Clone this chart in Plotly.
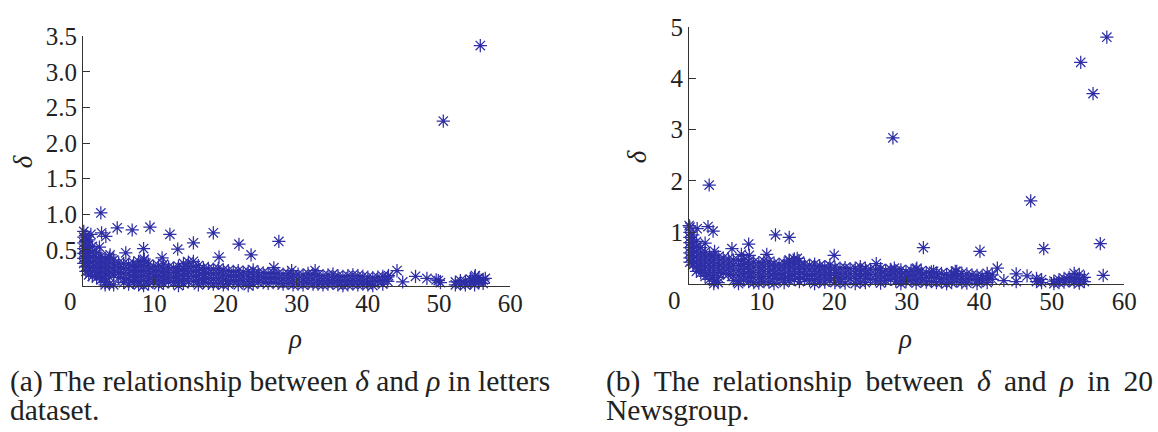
import plotly.graph_objects as go

# ---------------- data: panel (a) letters dataset ----------------
band_a_rho = [0.1, 0.4, 0.8, 1.3, 1.9, 2.5, 3.1, 3.7, 4.3, 5.0, 5.7, 6.4, 7.1, 7.8, 8.5, 9.2, 9.9,
              10.6, 11.3, 12.0, 12.7, 13.4, 14.1, 14.8, 15.5, 16.2, 16.9, 17.6, 18.3, 19.0, 19.7,
              20.4, 21.1, 21.8, 22.5, 23.2, 23.9, 24.6, 25.3, 26.0, 26.7, 27.4, 28.1, 28.8, 29.5,
              30.2, 30.9, 31.6, 32.3, 33.0, 33.7, 34.4, 35.1, 35.8, 36.5, 37.2, 37.9, 38.6, 39.3,
              40.0, 40.7, 41.4, 42.1, 42.8,
              49.6, 50.2, 52.3, 53.0, 53.7, 54.4, 55.0, 55.6, 56.2]
band_a_delta = [
    [0.76, 0.68, 0.60, 0.52, 0.45, 0.38, 0.31],
    [0.70, 0.62, 0.55, 0.48, 0.41, 0.34, 0.27, 0.20],
    [0.64, 0.56, 0.49, 0.42, 0.35, 0.28, 0.21, 0.15],
    [0.55, 0.47, 0.40, 0.33, 0.26, 0.20, 0.13],
    [0.46, 0.39, 0.32, 0.25, 0.18, 0.11],
    [0.41, 0.34, 0.27, 0.20, 0.14, 0.08],
    [0.38, 0.31, 0.24, 0.17, 0.10, 0.04, 0.01],
    [0.40, 0.33, 0.26, 0.19, 0.12, 0.02],
    [0.36, 0.29, 0.22, 0.15, 0.01],
    [0.32, 0.25, 0.18, 0.11],
    [0.31, 0.24, 0.17, 0.10, 0.04],
    [0.30, 0.23, 0.16, 0.09, 0.02],
    [0.32, 0.25, 0.18, 0.11, 0.04],
    [0.34, 0.27, 0.20, 0.13, 0.06, 0.01],
    [0.35, 0.28, 0.21, 0.14, 0.07, 0.00],
    [0.30, 0.23, 0.16, 0.09, 0.02],
    [0.27, 0.20, 0.13, 0.06],
    [0.28, 0.21, 0.14, 0.07, 0.01],
    [0.30, 0.23, 0.16, 0.09, 0.03],
    [0.26, 0.19, 0.12, 0.05],
    [0.25, 0.18, 0.11, 0.04],
    [0.27, 0.20, 0.13, 0.06, 0.00],
    [0.31, 0.24, 0.17, 0.10, 0.03],
    [0.33, 0.26, 0.19, 0.12, 0.05],
    [0.34, 0.27, 0.20, 0.13, 0.06],
    [0.28, 0.21, 0.14, 0.07, 0.01],
    [0.25, 0.18, 0.11, 0.04],
    [0.24, 0.17, 0.10, 0.03],
    [0.23, 0.16, 0.09, 0.02],
    [0.24, 0.17, 0.10, 0.03],
    [0.22, 0.15, 0.08, 0.01],
    [0.21, 0.14, 0.07, 0.02],
    [0.20, 0.13, 0.06],
    [0.21, 0.14, 0.07, 0.01],
    [0.19, 0.12, 0.05],
    [0.20, 0.13, 0.06, 0.00],
    [0.22, 0.15, 0.08, 0.02],
    [0.19, 0.12, 0.05],
    [0.18, 0.11, 0.04],
    [0.17, 0.10, 0.03],
    [0.18, 0.11, 0.04],
    [0.17, 0.10, 0.03],
    [0.16, 0.09, 0.02],
    [0.17, 0.10, 0.03],
    [0.15, 0.08, 0.01],
    [0.16, 0.09, 0.02],
    [0.15, 0.08, 0.01],
    [0.17, 0.10, 0.03],
    [0.16, 0.09, 0.02],
    [0.15, 0.08, 0.02],
    [0.14, 0.07, 0.01],
    [0.15, 0.08, 0.02],
    [0.16, 0.09, 0.03],
    [0.14, 0.07, 0.01],
    [0.13, 0.06, 0.00],
    [0.14, 0.07, 0.01],
    [0.15, 0.08, 0.02],
    [0.14, 0.07, 0.01],
    [0.13, 0.06, 0.02],
    [0.12, 0.05, 0.01],
    [0.11, 0.05, 0.00],
    [0.12, 0.06],
    [0.13, 0.07, 0.02],
    [0.12, 0.06],
    [0.08],
    [0.04],
    [0.05, 0.01],
    [0.07, 0.02],
    [0.06, 0.01],
    [0.09, 0.04],
    [0.12, 0.06, 0.01],
    [0.11, 0.05],
    [0.08, 0.03],
]
out_a_rho = [55.8, 50.6, 2.5, 4.8, 6.9, 9.4, 12.2, 18.3, 15.5, 13.3, 21.9, 27.5, 19.1, 23.6,
             26.8, 8.5, 2.3, 2.6, 3.2, 1.1, 6.0, 11.1, 8.6, 3.8, 29.3, 32.6, 44.1, 42.9, 44.9,
             46.7, 48.3, 49.9, 55.1, 56.5]
out_a_delta = [3.37, 2.31, 1.02, 0.81, 0.78, 0.82, 0.72, 0.74, 0.60, 0.51, 0.58, 0.62, 0.40, 0.43,
               0.25, 0.52, 0.54, 0.74, 0.69, 0.72, 0.46, 0.39, 0.37, 0.43, 0.21, 0.21, 0.21, 0.14, 0.05,
               0.13, 0.10, 0.07, 0.14, 0.10]

# ---------------- data: panel (b) 20 Newsgroup ----------------
band_b_rho = [0.1, 0.5, 1.0, 1.6, 2.2, 2.8, 3.4, 4.0, 4.7, 5.4, 6.1, 6.8, 7.5, 8.2, 8.9, 9.6,
              10.3, 11.0, 11.7, 12.4, 13.1, 13.8, 14.5, 15.2, 15.9, 16.6, 17.3, 18.0, 18.7, 19.4,
              20.1, 20.8, 21.5, 22.2, 22.9, 23.6, 24.3, 25.0, 25.7, 26.4, 27.1, 27.8, 28.5, 29.2,
              29.9, 30.6, 31.3, 32.0, 32.7, 33.4, 34.1, 34.8, 35.5, 36.2, 36.9, 37.6, 38.3, 39.0,
              39.7, 40.4, 41.1, 41.8,
              47.9, 48.6, 50.3, 51.0, 51.7, 52.4, 53.1, 53.8, 54.5]
band_b_delta = [
    [1.10, 1.00, 0.90, 0.80, 0.70, 0.60, 0.50, 0.42],
    [0.95, 0.85, 0.75, 0.65, 0.55, 0.45, 0.36],
    [0.82, 0.72, 0.62, 0.52, 0.42, 0.32, 0.24],
    [0.70, 0.60, 0.50, 0.40, 0.30, 0.21],
    [0.62, 0.52, 0.42, 0.32, 0.22, 0.14],
    [0.56, 0.46, 0.36, 0.26, 0.16, 0.08],
    [0.55, 0.45, 0.35, 0.25, 0.15, 0.05, 0.00],
    [0.52, 0.42, 0.32, 0.22, 0.12, 0.02],
    [0.50, 0.40, 0.30, 0.20],
    [0.48, 0.38, 0.28, 0.18],
    [0.46, 0.36, 0.26, 0.16, 0.06],
    [0.45, 0.35, 0.25, 0.15, 0.05, 0.00],
    [0.47, 0.37, 0.27, 0.17, 0.07],
    [0.44, 0.34, 0.24, 0.14, 0.04],
    [0.42, 0.32, 0.22, 0.12, 0.02],
    [0.41, 0.31, 0.21, 0.11, 0.01],
    [0.44, 0.34, 0.24, 0.14, 0.04],
    [0.43, 0.33, 0.23, 0.13, 0.03],
    [0.40, 0.30, 0.20, 0.10, 0.00],
    [0.38, 0.28, 0.18, 0.08],
    [0.40, 0.30, 0.20, 0.10, 0.02],
    [0.46, 0.36, 0.26, 0.16, 0.06],
    [0.48, 0.38, 0.28, 0.18, 0.08],
    [0.44, 0.34, 0.24, 0.14, 0.04],
    [0.38, 0.28, 0.18, 0.08],
    [0.36, 0.26, 0.16, 0.06],
    [0.38, 0.28, 0.18, 0.08, 0.00],
    [0.35, 0.25, 0.15, 0.05],
    [0.33, 0.23, 0.13, 0.03],
    [0.36, 0.26, 0.16, 0.06],
    [0.32, 0.22, 0.12, 0.02],
    [0.30, 0.20, 0.10, 0.03],
    [0.31, 0.21, 0.11, 0.01],
    [0.29, 0.19, 0.09],
    [0.30, 0.20, 0.10, 0.00],
    [0.33, 0.23, 0.13, 0.03],
    [0.30, 0.20, 0.10, 0.02],
    [0.28, 0.18, 0.08],
    [0.27, 0.17, 0.07],
    [0.29, 0.19, 0.09, 0.01],
    [0.26, 0.16, 0.06],
    [0.28, 0.18, 0.08],
    [0.25, 0.15, 0.05],
    [0.27, 0.17, 0.07, 0.00],
    [0.24, 0.14, 0.04],
    [0.26, 0.16, 0.06],
    [0.28, 0.18, 0.08, 0.01],
    [0.25, 0.15, 0.05],
    [0.22, 0.12, 0.03],
    [0.23, 0.13, 0.04],
    [0.21, 0.11, 0.02],
    [0.20, 0.10, 0.03],
    [0.18, 0.09, 0.00],
    [0.21, 0.11, 0.02],
    [0.24, 0.14, 0.05],
    [0.20, 0.10, 0.02],
    [0.19, 0.09, 0.01],
    [0.17, 0.08],
    [0.16, 0.07, 0.00],
    [0.15, 0.06],
    [0.20, 0.10, 0.02],
    [0.17, 0.08],
    [0.10, 0.04],
    [0.08, 0.02],
    [0.05, 0.00],
    [0.08, 0.02],
    [0.10, 0.03],
    [0.12, 0.05],
    [0.20, 0.10, 0.03],
    [0.18, 0.08, 0.01],
    [0.12, 0.04],
]
out_b_rho = [57.6, 54.0, 55.7, 28.1, 2.76, 47.1, 56.7, 48.9, 40.1, 32.3, 20.0, 11.9, 13.8, 57.1,
             42.5, 45.1, 46.6, 43.4, 45.1, 25.8, 28.3, 31.4, 33.7, 36.7, 8.2, 8.3, 5.9, 2.2, 2.6,
             3.3, 1.1, 0.0, 10.7, 3.5, 7.2, 14.9, 13.8]
out_b_delta = [4.80, 4.31, 3.70, 2.84, 1.92, 1.61, 0.78, 0.68, 0.63, 0.70, 0.55, 0.95, 0.90, 0.16,
               0.30, 0.19, 0.15, 0.06, 0.04, 0.39, 0.30, 0.30, 0.24, 0.24, 0.77, 0.55, 0.68, 0.79, 1.11,
               1.02, 1.07, 1.13, 0.57, 0.63, 0.57, 0.49, 0.44]

ticks_a = [0.5, 1.0, 1.5, 2.0, 2.5, 3.0, 3.5]
ticks_a_text = ["0.5", "1.0", "1.5", "2.0", "2.5", "3.0", "3.5"]
ticks_b = [1, 2, 3, 4, 5]
ticks_x = [10, 20, 30, 40, 50, 60]

GAP = "\u00a0\u2009"
caption_a = ["(a) The relationship between <i>δ</i> and <i>ρ</i> in letters", "dataset."]
caption_b = [GAP.join(["(b)", "The", "relationship", "between", "<i>δ</i>", "and",
                       "<i>ρ</i>", "in", "20"]), "Newsgroup."]

# ---------------- build ----------------
W, H = 1158, 432
def px(x):
    return x / W
def py(y):
    return 1 - y / H

def expand(rhos, deltas):
    xs, ys = [], []
    for r, col in zip(rhos, deltas):
        for d in col:
            xs.append(r)
            ys.append(d)
    return xs, ys

MC = "#2e2ea6"
marker = dict(symbol="asterisk-open", size=11, color=MC, line=dict(color=MC, width=1.25))

fig = go.Figure()
xa, ya = expand(band_a_rho, band_a_delta)
xb, yb = expand(band_b_rho, band_b_delta)
fig.add_trace(go.Scatter(x=xa + out_a_rho, y=ya + out_a_delta, mode="markers", marker=marker,
                         xaxis="x", yaxis="y", cliponaxis=False, showlegend=False))
fig.add_trace(go.Scatter(x=xb + out_b_rho, y=yb + out_b_delta, mode="markers", marker=marker,
                         xaxis="x2", yaxis="y2", cliponaxis=False, showlegend=False))

SERIF = "Liberation Serif"
tickfont = dict(family=SERIF, size=25, color="#222")
axcommon = dict(showgrid=False, zeroline=False, showline=True, linecolor="#333", linewidth=1.2,
                ticks="inside", ticklen=7, tickwidth=1.2, tickcolor="#333", tickfont=tickfont,
                mirror=False)

fig.update_layout(
    width=W, height=H, margin=dict(l=0, r=0, t=0, b=0),
    paper_bgcolor="white", plot_bgcolor="white",
    xaxis=dict(domain=[px(84), px(516)], range=[0, 60], tickvals=ticks_x, anchor="y",
               ticklabelstandoff=-5, **axcommon),
    yaxis=dict(domain=[py(281), py(24)], range=[0, 3.5], tickvals=ticks_a, ticktext=ticks_a_text,
               anchor="x", **axcommon),
    xaxis2=dict(domain=[px(697), px(1137)], range=[0, 60], tickvals=ticks_x, anchor="y2",
                ticklabelstandoff=-5, **axcommon),
    yaxis2=dict(domain=[py(279), py(14.3)], range=[0, 5], tickvals=ticks_b, anchor="x2", **axcommon),
)

ann = []
def text(x, y, s, size=25, xanchor="center", angle=0, italic=False):
    ann.append(dict(x=px(x), y=py(y), xref="paper", yref="paper", text=s, showarrow=False,
                    xanchor=xanchor, yanchor="middle", textangle=angle,
                    font=dict(family=SERIF, size=size, color="#222",
                              style="italic" if italic else "normal")))

# "0" tick labels (set to the left of the axis corner, as in the original)
text(71, 297, "0")
text(682, 296, "0")
# axis titles
text(298, 336, "ρ", size=27, italic=True)
text(915, 336, "ρ", size=27, italic=True)
text(24, 153, "δ", size=27, angle=-90, italic=True)
text(644, 148, "δ", size=27, angle=-90, italic=True)
# captions
text(8, 380, caption_a[0], size=29.5, xanchor="left")
text(8, 409, caption_a[1], size=29.5, xanchor="left")
text(611, 380, caption_b[0], size=29.5, xanchor="left")
text(611, 409, caption_b[1], size=29.5, xanchor="left")
fig.update_layout(annotations=ann)

# remove the default page margin so the figure fills the window exactly; hide the mode bar
fig.write_html("out.html", config={"displayModeBar": False},
               post_script="document.body.style.margin='0';document.body.style.overflow='hidden';")
